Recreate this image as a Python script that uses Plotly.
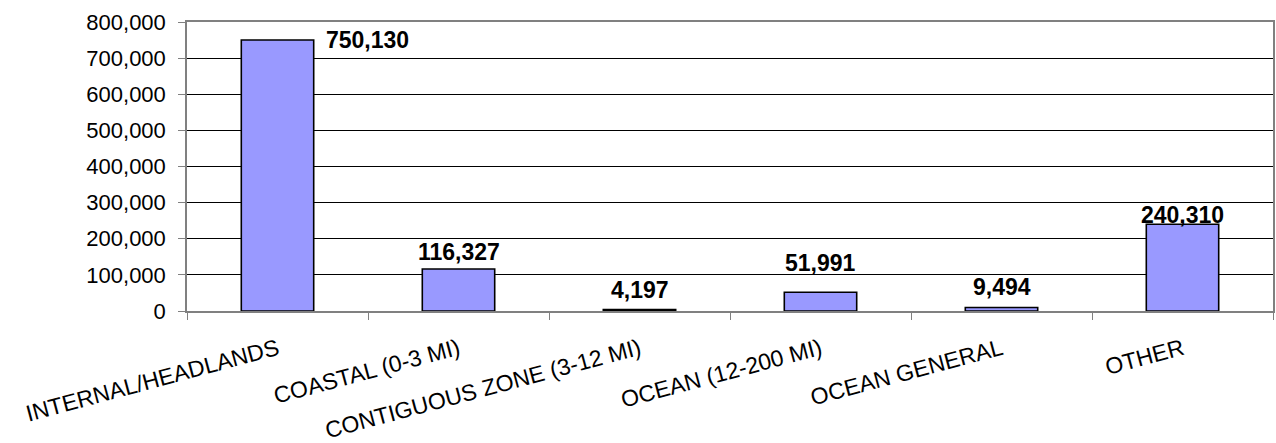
import plotly.graph_objects as go

categories = ["INTERNAL/HEADLANDS", "COASTAL (0-3 MI)", "CONTIGUOUS ZONE (3-12 MI)",
              "OCEAN (12-200 MI)", "OCEAN GENERAL", "OTHER"]
values = [750130, 116327, 4197, 51991, 9494, 240310]
y_ticks = [0, 100000, 200000, 300000, 400000, 500000, 600000, 700000, 800000]

# label placement (style only): pixel offsets of each value label from its bar top
label_yshift = [0, 17, 19, 29, 21, 9]
label_xanchor = ["left", "center", "center", "center", "center", "center"]
label_xshift = [46, 0, 0, 0, 0, 0]

FONT = "Liberation Sans, Arial, sans-serif"

fig = go.Figure()
fig.add_trace(go.Bar(
    x=categories, y=values,
    marker=dict(color="#9999FF", line=dict(color="black", width=1.6)),
    width=0.4, showlegend=False, hoverinfo="x+y",
))

for c, v, ys, xa, xs in zip(categories, values, label_yshift, label_xanchor, label_xshift):
    fig.add_annotation(
        x=c, y=v, text=f"{v:,}", showarrow=False,
        xanchor=xa, yanchor="middle", xshift=xs, yshift=ys,
        font=dict(family=FONT, size=23, color="black", weight="bold"),
    )

fig.update_layout(
    width=1276, height=443,
    margin=dict(l=187, r=3, t=22, b=132),
    paper_bgcolor="white", plot_bgcolor="white",
    font=dict(family=FONT, color="black"),
    bargap=0.6,
)
fig.update_xaxes(
    type="category", tickson="boundaries", ticks="outside", ticklen=7,
    tickcolor="#808080", tickwidth=1,
    showline=True, linecolor="#808080", linewidth=2, mirror=True,
    showgrid=False, tickangle=-15, automargin=False,
    tickfont=dict(size=23, family=FONT, color="black"),
    ticklabelstandoff=14,
)
fig.update_yaxes(
    range=[0, 800000], tickvals=y_ticks, tickformat=",d",
    ticks="outside", ticklen=7, tickcolor="#808080", automargin=False,
    showline=True, linecolor="#808080", linewidth=1.5, mirror=True,
    showgrid=True, gridcolor="black", gridwidth=1, zeroline=False,
    tickfont=dict(size=22, family=FONT, color="black"),
    ticklabelstandoff=8,
)

fig.write_html("out.html", config={"displayModeBar": False},
               post_script="document.body.style.margin='0';")
